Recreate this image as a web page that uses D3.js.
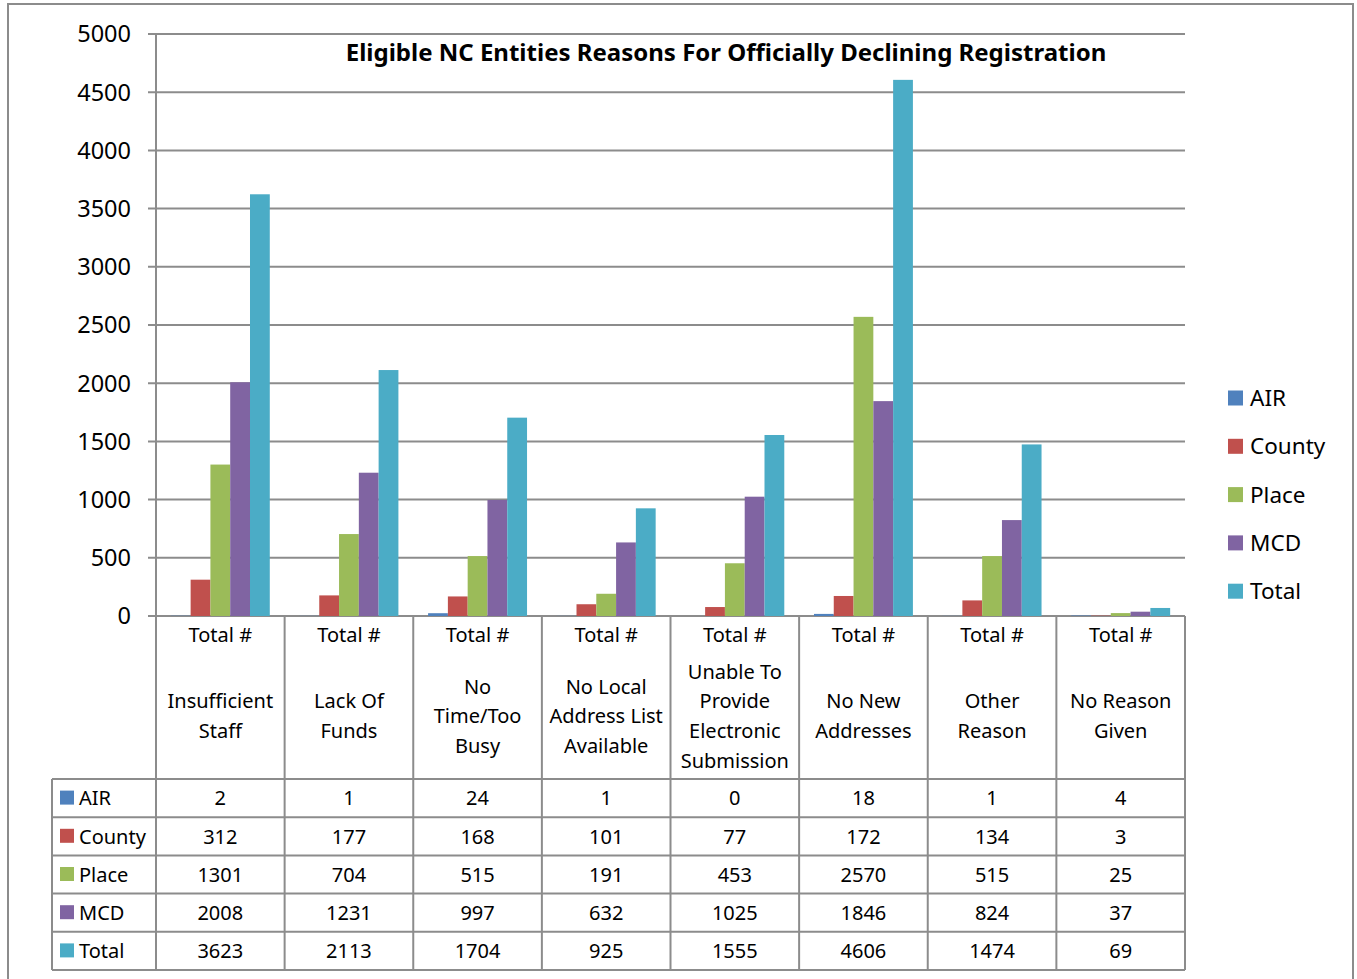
<!DOCTYPE html>
<html lang="en">
<head>
<meta charset="UTF-8" />
<title>Eligible NC Entities Reasons For Officially Declining Registration</title>
<script src="https://d3js.org/d3.v7.min.js"></script>
<style>
  body { margin: 0; background: #fff; font-family: "Noto Sans", sans-serif; }
  .grid line { stroke: #8c8c8c; stroke-width: 2; }
  .tbl line { stroke: #8c8c8c; stroke-width: 2; }
</style>
</head>
<body>
<div id="chart"></div>
<script>
// data
const series = ["AIR", "County", "Place", "MCD", "Total"];
const colors = ["#4f81bd", "#c0504d", "#9bbb59", "#8064a2", "#4bacc6"];
const categories = [
  ["Insufficient", "Staff"],
  ["Lack Of", "Funds"],
  ["No", "Time/Too", "Busy"],
  ["No Local", "Address List", "Available"],
  ["Unable To", "Provide", "Electronic", "Submission"],
  ["No New", "Addresses"],
  ["Other", "Reason"],
  ["No Reason", "Given"]
];
const air    = [2, 1, 24, 1, 0, 18, 1, 4];
const county = [312, 177, 168, 101, 77, 172, 134, 3];
const place  = [1301, 704, 515, 191, 453, 2570, 515, 25];
const mcd    = [2008, 1231, 997, 632, 1025, 1846, 824, 37];
const total  = [3623, 2113, 1704, 925, 1555, 4606, 1474, 69];
const values = [air, county, place, mcd, total];
const yTicks = d3.range(0, 5001, 500);

const W = 1357, H = 979;
const plotL = 156, plotR = 1185, plotT = 34, plotB = 616;
const headBottom = 779, rowH = 38.2, tableLeft = 52;

const svg = d3.select("#chart").append("svg")
  .attr("width", W).attr("height", H);

// outer border
svg.append("rect").attr("x", 8).attr("y", 4).attr("width", 1345).attr("height", 1000)
  .attr("fill", "none").attr("stroke", "#8c8c8c").attr("stroke-width", 2);

const x = d3.scaleBand().domain(d3.range(categories.length)).range([plotL, plotR]);
const xs = d3.scaleBand().domain(series).range([0, x.bandwidth()]).paddingOuter(0.75);
const y = d3.scaleLinear().domain([0, 5000]).range([plotB, plotT]);

// gridlines and y axis
const g = svg.append("g").attr("class", "grid");
g.selectAll("line.h").data(yTicks).join("line").attr("class", "h")
  .attr("x1", 148).attr("x2", plotR)
  .attr("y1", d => y(d)).attr("y2", d => y(d));
g.append("line").attr("x1", plotL).attr("x2", plotL).attr("y1", plotT).attr("y2", plotB);

svg.append("g").selectAll("text").data(yTicks).join("text")
  .attr("x", 131).attr("y", d => y(d)).attr("dy", "0.36em")
  .attr("text-anchor", "end").attr("font-size", 23.5).attr("fill", "#000")
  .text(d => d);

// bars
series.forEach((s, i) => {
  svg.append("g").attr("fill", colors[i]).selectAll("rect").data(values[i]).join("rect")
    .attr("x", (d, j) => x(j) + xs(s))
    .attr("width", xs.bandwidth())
    .attr("y", d => y(d))
    .attr("height", d => plotB - y(d));
});

// title
svg.append("text").attr("x", 726).attr("y", 61).attr("text-anchor", "middle")
  .attr("font-size", 24).attr("font-weight", "bold").attr("fill", "#000")
  .text("Eligible NC Entities Reasons For Officially Declining Registration");

// data table
const t = svg.append("g").attr("class", "tbl");
const tableBottom = headBottom + rowH * series.length;
const vlines = d3.range(categories.length + 1).map(i => i < categories.length ? x(i) : plotR);
t.selectAll("line.v").data(vlines).join("line").attr("class", "v")
  .attr("x1", d => d).attr("x2", d => d).attr("y1", plotB).attr("y2", tableBottom);
t.append("line").attr("x1", tableLeft).attr("x2", tableLeft).attr("y1", headBottom).attr("y2", tableBottom);
t.selectAll("line.h").data(d3.range(series.length + 1)).join("line").attr("class", "h")
  .attr("x1", tableLeft).attr("x2", plotR)
  .attr("y1", i => headBottom + i * rowH).attr("y2", i => headBottom + i * rowH);

// category header
const head = svg.append("g").attr("font-size", 20).attr("text-anchor", "middle").attr("fill", "#000");
categories.forEach((lines, j) => {
  const cx = x(j) + x.bandwidth() / 2;
  head.append("text").attr("x", cx).attr("y", 635).attr("dy", "0.36em").text("Total #");
  const lh = 29.6, start = 716 - (lines.length - 1) * lh / 2;
  lines.forEach((l, k) => {
    head.append("text").attr("x", cx).attr("y", start + k * lh).attr("dy", "0.36em").text(l);
  });
});

// rows
series.forEach((s, i) => {
  const cy = headBottom + (i + 0.5) * rowH;
  svg.append("rect").attr("x", 60).attr("y", cy - 7.5).attr("width", 14).attr("height", 14).attr("fill", colors[i]);
  svg.append("text").attr("x", 79).attr("y", cy).attr("dy", "0.36em").attr("font-size", 20).text(s);
  svg.append("g").selectAll("text").data(values[i]).join("text")
    .attr("x", (d, j) => x(j) + x.bandwidth() / 2).attr("y", cy).attr("dy", "0.36em")
    .attr("text-anchor", "middle").attr("font-size", 20).text(d => d);
});

// legend
const leg = svg.append("g");
series.forEach((s, i) => {
  const ly = 398 + i * 48.3;
  leg.append("rect").attr("x", 1228).attr("y", ly - 7.5).attr("width", 15).attr("height", 15).attr("fill", colors[i]);
  leg.append("text").attr("x", 1250).attr("y", ly).attr("dy", "0.36em").attr("font-size", 22.5).text(s);
});
</script>
</body>
</html>
